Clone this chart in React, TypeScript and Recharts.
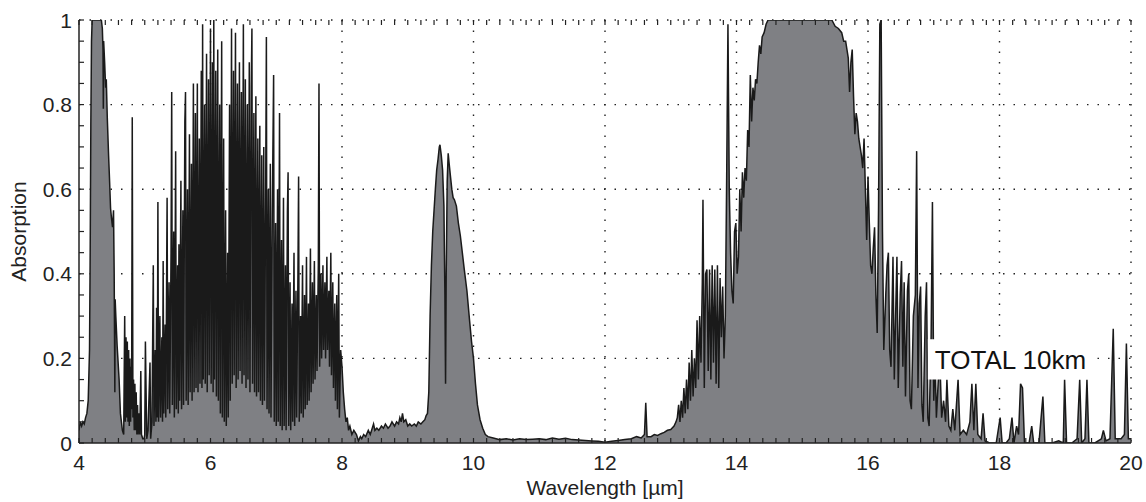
import { AreaChart, Area, XAxis, YAxis, CartesianGrid, ReferenceArea, Label } from "recharts";

// [wavelength µm, absorption], band by band
const co2Band43: [number, number][] = [
  [4.0, 0.03], [4.02, 0.05], [4.04, 0.04], [4.06, 0.05], [4.08, 0.045], [4.1, 0.06], [4.12, 0.07],
  [4.14, 0.1], [4.16, 0.22], [4.17, 0.45], [4.18, 0.75], [4.19, 0.95], [4.2, 1], [4.26, 1], [4.34, 1],
  [4.355, 0.98], [4.365, 0.93], [4.37, 0.79], [4.375, 0.95], [4.39, 0.9], [4.405, 0.84], [4.415, 0.86],
  [4.43, 0.77], [4.45, 0.68], [4.465, 0.62], [4.48, 0.555], [4.495, 0.53], [4.51, 0.51], [4.525, 0.55],
  [4.535, 0.4], [4.545, 0.12], [4.55, 0.34], [4.56, 0.3], [4.58, 0.23], [4.61, 0.15], [4.63, 0.07],
  [4.66, 0.03], [4.68, 0.02], [4.695, 0.3], [4.705, 0.05], [4.715, 0.25], [4.725, 0.06], [4.735, 0.24],
  [4.745, 0.05], [4.755, 0.22], [4.765, 0.04], [4.775, 0.2], [4.785, 0.05], [4.795, 0.18], [4.8, 0.08],
  [4.81, 0.77], [4.82, 0.06], [4.83, 0.15], [4.84, 0.03], [4.85, 0.14], [4.86, 0.03], [4.87, 0.12],
  [4.88, 0.02], [4.89, 0.09], [4.9, 0.02], [4.91, 0.07], [4.925, 0.02], [4.94, 0.17], [4.95, 0.02],
  [4.97, 0.01], [4.99, 0.01],
];

const waterBand63: [number, number][] = [
  [5.0, 0.02], [5.01, 0.24], [5.03, 0.01], [5.05, 0.03], [5.08, 0.19], [5.09, 0.01], [5.11, 0.05],
  [5.13, 0.42], [5.14, 0.04], [5.16, 0.22], [5.17, 0.05], [5.18, 0.32], [5.19, 0.06], [5.2, 0.57],
  [5.21, 0.05], [5.23, 0.3], [5.24, 0.06], [5.26, 0.25], [5.27, 0.05], [5.28, 0.43], [5.29, 0.07],
  [5.31, 0.28], [5.32, 0.06], [5.34, 0.58], [5.35, 0.08], [5.37, 0.38], [5.38, 0.07], [5.4, 0.45],
  [5.41, 0.83], [5.42, 0.09], [5.44, 0.5], [5.45, 0.06], [5.47, 0.69], [5.48, 0.08], [5.5, 0.42],
  [5.51, 0.07], [5.52, 0.47], [5.53, 0.1], [5.55, 0.62], [5.56, 0.08], [5.58, 0.55], [5.59, 0.09],
  [5.61, 0.76], [5.62, 0.83], [5.63, 0.1], [5.65, 0.6], [5.66, 0.09], [5.68, 0.73], [5.69, 0.12],
  [5.71, 0.66], [5.72, 0.1], [5.74, 0.85], [5.75, 0.12], [5.77, 0.78], [5.78, 0.13], [5.8, 0.85],
  [5.81, 0.12], [5.83, 0.72], [5.84, 0.14], [5.86, 0.88], [5.87, 0.13], [5.88, 0.99], [5.89, 0.15],
  [5.91, 0.8], [5.92, 0.14], [5.94, 0.92], [5.95, 0.12], [5.97, 0.86], [5.98, 0.16], [6.0, 0.98],
  [6.01, 0.14], [6.03, 0.9], [6.04, 0.12], [6.05, 1.0], [6.06, 0.15], [6.08, 0.88], [6.09, 0.11],
  [6.11, 0.93], [6.12, 0.1], [6.14, 0.8], [6.15, 0.07], [6.17, 0.95], [6.18, 0.06], [6.2, 0.72],
  [6.21, 0.05], [6.23, 0.55], [6.24, 0.04], [6.26, 0.45], [6.27, 0.06], [6.29, 0.8], [6.3, 0.1],
  [6.32, 0.98], [6.33, 0.14], [6.35, 0.88], [6.36, 0.16], [6.38, 0.97], [6.39, 0.13], [6.41, 0.85],
  [6.42, 0.15], [6.44, 0.9], [6.45, 0.17], [6.47, 0.83], [6.48, 0.14], [6.5, 0.99], [6.51, 0.16],
  [6.53, 0.86], [6.54, 0.13], [6.56, 0.8], [6.57, 0.15], [6.59, 0.9], [6.6, 0.12], [6.62, 0.84],
  [6.63, 0.98], [6.64, 0.14], [6.66, 0.78], [6.67, 0.12], [6.69, 0.82], [6.7, 0.11], [6.72, 0.72],
  [6.73, 0.12], [6.75, 0.75], [6.76, 0.1], [6.78, 0.68], [6.79, 0.09], [6.81, 0.7], [6.82, 0.1],
  [6.84, 0.62], [6.85, 0.96], [6.86, 0.08], [6.88, 0.6], [6.89, 0.07], [6.91, 0.66], [6.92, 0.06],
  [6.94, 0.55], [6.96, 0.87], [6.97, 0.05], [6.99, 0.52], [7.0, 0.04], [7.02, 0.6], [7.03, 0.05],
  [7.05, 0.78], [7.06, 0.04], [7.08, 0.48], [7.09, 0.03], [7.11, 0.58], [7.12, 0.04], [7.14, 0.42],
  [7.15, 0.03], [7.17, 0.55], [7.18, 0.64], [7.19, 0.04], [7.21, 0.38], [7.22, 0.03], [7.24, 0.33],
  [7.25, 0.05], [7.27, 0.45], [7.28, 0.04], [7.3, 0.36], [7.31, 0.06], [7.33, 0.4], [7.34, 0.63],
  [7.35, 0.05], [7.37, 0.3], [7.38, 0.07], [7.4, 0.42], [7.41, 0.06], [7.43, 0.35], [7.44, 0.08],
  [7.46, 0.44], [7.47, 0.09], [7.49, 0.33], [7.5, 0.1], [7.52, 0.46], [7.53, 0.12], [7.55, 0.38],
  [7.56, 0.14], [7.58, 0.43], [7.59, 0.15], [7.61, 0.35], [7.62, 0.17], [7.64, 0.42], [7.65, 0.85],
  [7.66, 0.18], [7.68, 0.4], [7.69, 0.2], [7.71, 0.42], [7.72, 0.22], [7.74, 0.38], [7.75, 0.2],
  [7.77, 0.44], [7.78, 0.22], [7.8, 0.36], [7.81, 0.18], [7.83, 0.45], [7.84, 0.16], [7.86, 0.38],
  [7.87, 0.13], [7.89, 0.33], [7.9, 0.1], [7.92, 0.35], [7.93, 0.08], [7.95, 0.4], [7.96, 0.06],
  [7.98, 0.22], [8.0, 0.18], [8.02, 0.12], [8.04, 0.08], [8.06, 0.05], [8.08, 0.06], [8.1, 0.03],
  [8.12, 0.04], [8.15, 0.02], [8.18, 0.03],
];

const ozoneBand96: [number, number][] = [
  [8.22, 0.02], [8.25, 0.005], [8.28, 0.015], [8.3, 0.01], [8.33, 0.02], [8.36, 0.015], [8.4, 0.03],
  [8.43, 0.02], [8.46, 0.035], [8.48, 0.045], [8.5, 0.03], [8.53, 0.035], [8.56, 0.03], [8.6, 0.04],
  [8.63, 0.035], [8.66, 0.045], [8.7, 0.035], [8.73, 0.04], [8.76, 0.05], [8.8, 0.04], [8.83, 0.05],
  [8.86, 0.045], [8.88, 0.06], [8.9, 0.05], [8.92, 0.07], [8.94, 0.05], [8.97, 0.055], [9.0, 0.04],
  [9.03, 0.045], [9.06, 0.04], [9.1, 0.045], [9.13, 0.04], [9.16, 0.05], [9.2, 0.045], [9.23, 0.05],
  [9.26, 0.055], [9.28, 0.065], [9.3, 0.07], [9.32, 0.12], [9.34, 0.3], [9.36, 0.42], [9.38, 0.5],
  [9.4, 0.55], [9.42, 0.6], [9.44, 0.645], [9.46, 0.67], [9.48, 0.7], [9.49, 0.705], [9.51, 0.68],
  [9.53, 0.645], [9.55, 0.56], [9.565, 0.35], [9.575, 0.14], [9.585, 0.4], [9.6, 0.62], [9.615, 0.685],
  [9.63, 0.66], [9.65, 0.63], [9.67, 0.6], [9.69, 0.58], [9.71, 0.575], [9.74, 0.56], [9.77, 0.52],
  [9.8, 0.49], [9.83, 0.45], [9.86, 0.41], [9.9, 0.36], [9.94, 0.29], [9.97, 0.24], [10.0, 0.2],
  [10.03, 0.14], [10.06, 0.09], [10.1, 0.055], [10.14, 0.035], [10.18, 0.02], [10.22, 0.015], [10.3, 0.012],
];

const windowRegion: [number, number][] = [
  [10.4, 0.008], [10.5, 0.01], [10.6, 0.007], [10.7, 0.01], [10.8, 0.008], [10.9, 0.009], [11.0, 0.01],
  [11.1, 0.008], [11.2, 0.012], [11.3, 0.009], [11.4, 0.011], [11.5, 0.008], [11.6, 0.007], [11.7, 0.006],
  [11.8, 0.005], [11.9, 0.004], [12.0, 0.002], [12.1, 0.004], [12.2, 0.006], [12.3, 0.008], [12.4, 0.01],
  [12.48, 0.015], [12.55, 0.012], [12.6, 0.02], [12.62, 0.095], [12.64, 0.015], [12.7, 0.015],
  [12.75, 0.02], [12.8, 0.018], [12.85, 0.022], [12.9, 0.025], [12.95, 0.03], [13.0, 0.032], [13.05, 0.04],
];

const co2Band15: [number, number][] = [
  [13.08, 0.05], [13.1, 0.06], [13.12, 0.09], [13.14, 0.05], [13.16, 0.1], [13.18, 0.06], [13.2, 0.13],
  [13.22, 0.07], [13.24, 0.15], [13.26, 0.08], [13.28, 0.19], [13.3, 0.1], [13.32, 0.22], [13.34, 0.11],
  [13.36, 0.2], [13.38, 0.13], [13.4, 0.29], [13.42, 0.15], [13.44, 0.3], [13.46, 0.19], [13.48, 0.38],
  [13.49, 0.575], [13.51, 0.13], [13.53, 0.4], [13.55, 0.41], [13.57, 0.17], [13.59, 0.41], [13.61, 0.15],
  [13.63, 0.42], [13.65, 0.19], [13.67, 0.41], [13.69, 0.14], [13.71, 0.42], [13.73, 0.13], [13.75, 0.39],
  [13.77, 0.25], [13.79, 0.37], [13.81, 0.2], [13.83, 0.3], [13.85, 0.62], [13.87, 0.99], [13.89, 0.6],
  [13.91, 0.45], [13.93, 0.36], [13.95, 0.33], [13.97, 0.5], [13.99, 0.52], [14.01, 0.4], [14.03, 0.44],
  [14.05, 0.6], [14.07, 0.5], [14.09, 0.64], [14.11, 0.58], [14.13, 0.65], [14.15, 0.62], [14.17, 0.74],
  [14.19, 0.7], [14.21, 0.87], [14.23, 0.76], [14.25, 0.84], [14.27, 0.81], [14.29, 0.86], [14.31, 0.85],
  [14.33, 0.9], [14.35, 0.94], [14.37, 0.92], [14.39, 0.96], [14.42, 0.97], [14.45, 0.99], [14.48, 1],
  [15.0, 1], [15.45, 1], [15.5, 0.985], [15.55, 0.98], [15.6, 0.97], [15.63, 0.95], [15.66, 0.95],
  [15.68, 0.93], [15.7, 0.91], [15.72, 0.83], [15.74, 0.9], [15.76, 0.93], [15.78, 0.82], [15.8, 0.73],
  [15.82, 0.78], [15.84, 0.76], [15.86, 0.72], [15.88, 0.7], [15.9, 0.68], [15.92, 0.65], [15.94, 0.72],
  [15.96, 0.6], [15.98, 0.48], [16.0, 0.63], [16.02, 0.52], [16.04, 0.42], [16.06, 0.4], [16.08, 0.46],
  [16.1, 0.51], [16.12, 0.35], [16.14, 0.26], [16.16, 0.55], [16.18, 0.99], [16.2, 1], [16.22, 0.5],
  [16.24, 0.22],
];

const farWing: [number, number][] = [
  [16.27, 0.35], [16.29, 0.42], [16.31, 0.45], [16.33, 0.22], [16.35, 0.18], [16.38, 0.44], [16.4, 0.15],
  [16.42, 0.3], [16.44, 0.44], [16.46, 0.13], [16.49, 0.35], [16.51, 0.43], [16.53, 0.18], [16.55, 0.38],
  [16.57, 0.11], [16.6, 0.36], [16.62, 0.4], [16.64, 0.1], [16.66, 0.08], [16.69, 0.3], [16.72, 0.35],
  [16.74, 0.69], [16.76, 0.13], [16.78, 0.33], [16.8, 0.37], [16.82, 0.09], [16.84, 0.05], [16.87, 0.3],
  [16.89, 0.38], [16.91, 0.06], [16.93, 0.04], [16.96, 0.25], [16.98, 0.57], [17.0, 0.1], [17.02, 0.2],
  [17.04, 0.06], [17.07, 0.15], [17.1, 0.16], [17.12, 0.06], [17.15, 0.1], [17.18, 0.05], [17.2, 0.15],
  [17.23, 0.04], [17.26, 0.03], [17.29, 0.08], [17.32, 0.03], [17.37, 0.15], [17.4, 0.02], [17.45, 0.03],
  [17.5, 0.02], [17.55, 0.05], [17.58, 0.14], [17.61, 0.03], [17.64, 0.14], [17.67, 0.02], [17.72, 0.01],
  [17.75, 0.07], [17.78, 0.005], [17.85, 0], [17.95, 0], [18.01, 0.06], [18.04, 0], [18.1, 0],
  [18.15, 0.01], [18.19, 0.06], [18.22, 0], [18.26, 0.04], [18.29, 0.02], [18.32, 0.14], [18.35, 0.13],
  [18.38, 0], [18.45, 0], [18.49, 0.04], [18.52, 0], [18.6, 0], [18.66, 0.11], [18.69, 0], [18.8, 0],
  [18.9, 0.005], [18.97, 0], [18.99, 0.15], [19.02, 0], [19.1, 0], [19.18, 0.01], [19.22, 0.15],
  [19.25, 0], [19.3, 0.01], [19.33, 0.15], [19.36, 0], [19.45, 0], [19.55, 0.01], [19.58, 0.03],
  [19.62, 0.005], [19.68, 0.01], [19.73, 0.27], [19.76, 0.01], [19.85, 0.01], [19.9, 0.02],
  [19.93, 0.235], [19.96, 0.01], [20.0, 0.01],
];

const xMajorTicks = [4, 6, 8, 10, 12, 14, 16, 18, 20];
const yMajorTicks = [0, 0.2, 0.4, 0.6, 0.8, 1];
const xGridValues = [6, 8, 10, 12, 14, 16, 18, 20];
const yGridValues = [0.2, 0.4, 0.6, 0.8, 1];
// minor ticks every 0.2 µm and every 0.05
const xMinorTicks = Array.from({ length: 81 }, (_, i) => Number((4 + i * 0.2).toFixed(1)));
const yMinorTicks = Array.from({ length: 21 }, (_, i) => Number((i * 0.05).toFixed(2)));

const spectrum = [...co2Band43, ...waterBand63, ...ozoneBand96, ...windowRegion, ...co2Band15, ...farWing].map(
  ([w, a]) => ({ w, a })
);

const FONT = "'Liberation Sans', Arial, sans-serif";
const INK = "#222";
const TICK_LEN = 5;

// tick marks point into the plot; labels only on the major ticks
const BottomTick = ({ x, y, payload }: any) => (
  <g>
    <line x1={x} x2={x} y1={y} y2={y - TICK_LEN} stroke={INK} strokeWidth={1.2} />
    {xMajorTicks.includes(payload.value) && (
      <text x={x} y={y} dy={27} textAnchor="middle" fontSize={21} fill={INK} fontFamily={FONT}>
        {payload.value}
      </text>
    )}
  </g>
);

const TopTick = ({ x, y }: any) => (
  <line x1={x} x2={x} y1={y} y2={y + TICK_LEN} stroke={INK} strokeWidth={1.2} />
);

const LeftTick = ({ x, y, payload }: any) => (
  <g>
    <line x1={x} x2={x + TICK_LEN} y1={y} y2={y} stroke={INK} strokeWidth={1.2} />
    {yMajorTicks.includes(payload.value) && (
      <text x={x - 7} y={y} dy="0.36em" textAnchor="end" fontSize={21} fill={INK} fontFamily={FONT}>
        {payload.value}
      </text>
    )}
  </g>
);

export default function App() {
  return (
    <div style={{ position: "absolute", left: 0, top: 0, fontFamily: FONT, background: "#fff" }}>
      <AreaChart width={1146} height={502} data={spectrum} margin={{ top: 19, right: 15, left: 0, bottom: 0 }}>
        <CartesianGrid
          horizontal
          vertical
          horizontalValues={yGridValues}
          verticalValues={xGridValues}
          stroke={INK}
          strokeWidth={1.4}
          strokeDasharray="1.5 9"
        />
        <XAxis
          dataKey="w"
          type="number"
          domain={[4, 20]}
          allowDataOverflow
          ticks={xMinorTicks}
          interval={0}
          height={59}
          tickSize={0}
          tickMargin={0}
          tickLine={false}
          tick={<BottomTick />}
          axisLine={{ stroke: INK, strokeWidth: 1.5 }}
        >
          <Label value="Wavelength [µm]" position="insideBottom" offset={7} style={{ fontSize: 21, fill: INK, fontFamily: FONT }} />
        </XAxis>
        <XAxis
          xAxisId="top"
          orientation="top"
          dataKey="w"
          type="number"
          domain={[4, 20]}
          allowDataOverflow
          ticks={xMinorTicks}
          interval={0}
          height={1}
          tickSize={0}
          tickMargin={0}
          tickLine={false}
          tick={<TopTick />}
          axisLine={false}
        />
        <YAxis
          type="number"
          domain={[0, 1]}
          allowDataOverflow
          ticks={yMinorTicks}
          interval={0}
          width={79}
          tickSize={0}
          tickMargin={0}
          tickLine={false}
          tick={<LeftTick />}
          axisLine={{ stroke: INK, strokeWidth: 1.5 }}
        >
          <Label
            value="Absorption"
            angle={-90}
            position="insideLeft"
            offset={19}
            style={{ fontSize: 21, fill: INK, fontFamily: FONT, textAnchor: "middle" }}
          />
        </YAxis>
        <Area
          type="linear"
          dataKey="a"
          baseValue={0}
          stroke="#1a1a1a"
          strokeWidth={1.5}
          fill="#7f8084"
          fillOpacity={1}
          dot={false}
          activeDot={false}
          isAnimationActive={false}
        />
        <ReferenceArea x1={16.91} x2={19.42} y1={0.15} y2={0.245} fill="#fff" fillOpacity={1} stroke="none" ifOverflow="visible">
          <Label value="TOTAL 10km" position="insideLeft" offset={7} style={{ fontSize: 26, fill: "#111", fontFamily: FONT }} />
        </ReferenceArea>
      </AreaChart>
    </div>
  );
}
